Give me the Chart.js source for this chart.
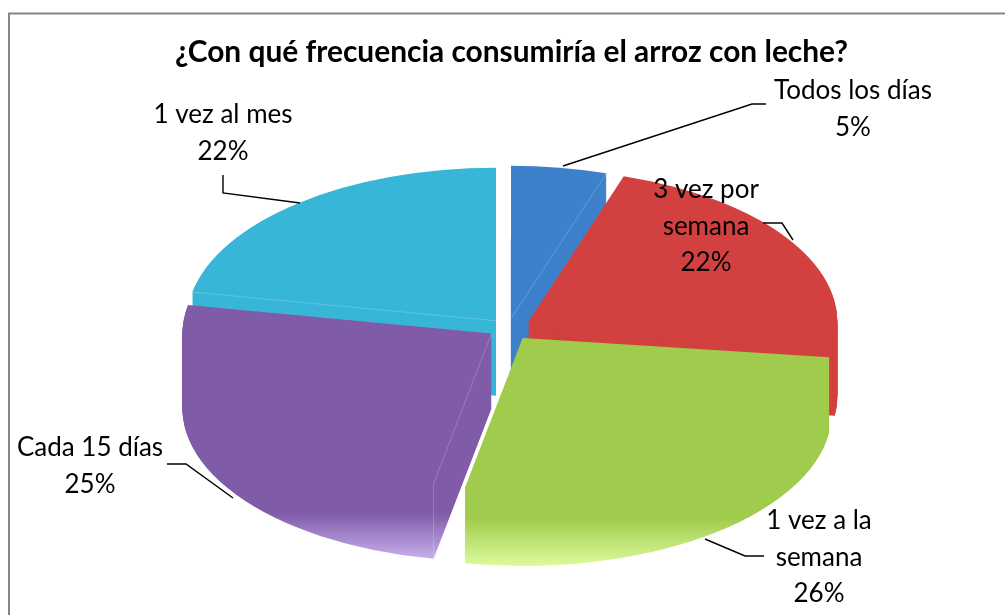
<!DOCTYPE html>
<html lang="es"><head><meta charset="utf-8">
<style>html,body{margin:0;padding:0;background:#fff;overflow:hidden}canvas{display:block}</style>
<script src="https://cdn.jsdelivr.net/npm/chart.js@4/dist/chart.umd.min.js"></script>
</head><body><canvas id="c" width="1005" height="615"></canvas>
<script>
const titleText = '¿Con qué frecuencia consumiría el arroz con leche?';
const categories = ['Todos los días','3 vez por semana','1 vez a la semana','Cada 15 días','1 vez al mes'];
const values = [5,22,26,25,22];
const colors = ['#3d80cc','#d2413f','#a1cb4d','#7f5ba8','#38b6d8'];
const fadeColors = [null,null,'#dcfb9c','#cbb3ee',null];
const explode = [19,24,25,20,19];

const FONT = 'Lato, "Open Sans", sans-serif';
const TILT = 0.495, DEPTH = 75, CX = 508, CY = 328, FADE = 48;
const drawOrder = [0,4,1,3,2];
const fadeBottom = {2:566,3:561};
const callouts = [
 {lines:['Todos los días'],x:853,y:91,lead:[[563,166],[752,104],[766,104]]},
 {lines:['3 vez por','semana'],x:706,y:190,lead:[[763,223],[782,223],[793,240]]},
 {lines:['1 vez a la','semana'],x:819,y:521,lead:[[705,539],[745,556],[764,556]]},
 {lines:['Cada 15 días'],x:90,y:448,lead:[[167,464],[186,464],[233,498]]},
 {lines:['1 vez al mes'],x:223,y:115,lead:[[223,175],[223,193],[300,203]]}
];
const seams = [{i:0,edge:'end'},{i:4,edge:'start'},{i:3,edge:'start',drop:true}];

const frame = {id:'frame',beforeDraw(ch){
  const c=ch.ctx;c.save();c.strokeStyle='#868686';c.lineWidth=2;
  c.beginPath();c.moveTo(9,615);c.lineTo(9,13.5);c.lineTo(1005,13.5);c.stroke();c.restore();
}};

const tilted = {id:'tilted',beforeDatasetDraw(ch,args){
  const c=ch.ctx, arcs=args.meta.data;
  const ax=arcs[0].x, ay=arcs[0].y;
  const toUser=Y=>(Y-CY)/TILT+ay;
  c.save();
  c.translate(CX,CY);c.scale(1,TILT);c.translate(-ax,-ay);
  drawOrder.forEach(i=>{
    const a=arcs[i], base=a.options;
    const mid=(a.startAngle+a.endAngle)/2;
    const ox=Math.cos(mid)*explode[i], oy=Math.sin(mid)*explode[i];
    for(let k=DEPTH;k>=0;k-=1){
      const dy=k/TILT;
      let fill=colors[i];
      if(fadeColors[i]){
        const bottom=fadeBottom[i];
        const g=c.createLinearGradient(0,toUser(bottom-FADE)-dy-oy,0,toUser(bottom)-dy-oy);
        g.addColorStop(0,colors[i]);g.addColorStop(1,fadeColors[i]);
        fill=g;
      }
      a.options=Object.assign(Object.create(base),{backgroundColor:fill});
      c.save();c.translate(ox,oy+dy);a.draw(c);c.restore();
    }
    a.options=base;
    seams.filter(s=>s.i===i).forEach(s=>{
      const px=ax+ox, py=ay+oy;
      const ang=s.edge==='end'?a.endAngle:a.startAngle;
      const qx=px+Math.cos(ang)*a.outerRadius, qy=py+Math.sin(ang)*a.outerRadius;
      c.save();c.strokeStyle='rgba(255,255,255,.28)';c.lineWidth=1;
      c.beginPath();c.moveTo(px,py);c.lineTo(qx,qy);
      if(s.drop)c.lineTo(qx,qy+DEPTH/TILT);
      c.stroke();c.restore();
    });
  });
  c.restore();
  return false;
}};

const labelsPlugin = {id:'calloutLabels',afterDraw(ch){
  const c=ch.ctx;c.save();
  c.strokeStyle='#000';c.lineWidth=1.4;
  callouts.forEach(o=>{c.beginPath();o.lead.forEach((p,n)=>n?c.lineTo(p[0],p[1]):c.moveTo(p[0],p[1]));c.stroke();});
  c.fillStyle='#000';c.font='26px '+FONT;c.textAlign='center';c.textBaseline='middle';
  callouts.forEach((o,i)=>{
    o.lines.concat([values[i]+'%']).forEach((t,n)=>c.fillText(t,o.x,o.y+n*36.5));
  });
  c.restore();
}};

new Chart(document.getElementById('c'),{
  type:'pie',
  data:{labels:categories,datasets:[{data:values,backgroundColor:colors,borderWidth:0,clip:false,radius:309}]},
  options:{responsive:false,animation:false,rotation:0,
    layout:{padding:{left:18}},
    plugins:{legend:{display:false},tooltip:{enabled:false},
      title:{display:true,fullSize:false,text:titleText,color:'#000',align:'center',font:{family:FONT,size:29.9,weight:'bold'},padding:{top:34,bottom:0}}}},
  plugins:[frame,tilted,labelsPlugin]
});
</script></body></html>
